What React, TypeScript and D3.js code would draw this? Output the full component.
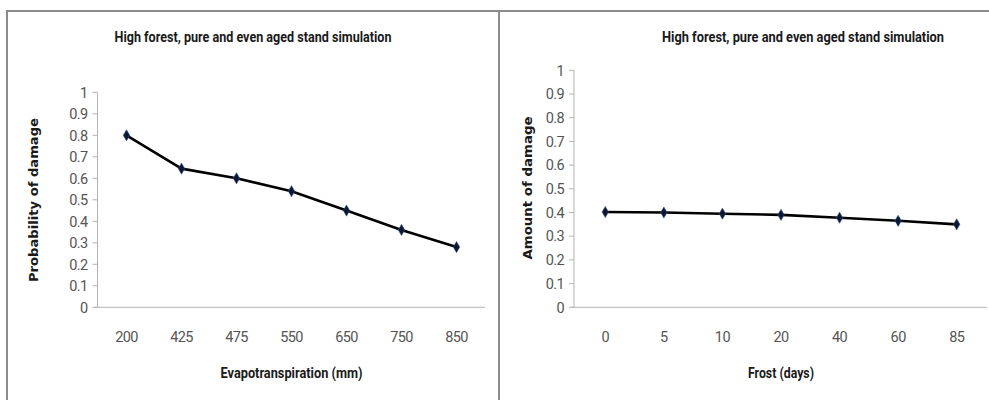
import React from "react";
import * as d3 from "d3";

const titleText = "High forest, pure and even aged stand simulation";

const evapCategories = ["200", "425", "475", "550", "650", "750", "850"];
const evapValues = [0.8, 0.645, 0.6, 0.54, 0.45, 0.36, 0.28];

const frostCategories = ["0", "5", "10", "20", "40", "60", "85"];
const frostValues = [0.402, 0.4, 0.395, 0.39, 0.378, 0.365, 0.35];

const yTicks = [0, 0.1, 0.2, 0.3, 0.4, 0.5, 0.6, 0.7, 0.8, 0.9, 1];

const FONT = "'Liberation Sans Narrow', Roboto, 'Open Sans', sans-serif";

type PanelProps = {
  categories: string[];
  values: number[];
  xRange: [number, number];
  yRange: [number, number];
  axisLineX: [number, number];
  yAxisX: number;
  titleX: number;
  titleW: number;
  xTitle: string;
  xTitleW: number;
  yTitle: string;
  yTitleX: number;
  yTitleY: number;
  yTitleW: number;
};

function Panel(p: PanelProps) {
  const x = d3.scaleBand<string>().domain(p.categories).range(p.xRange);
  const y = d3.scaleLinear().domain([0, 1]).range(p.yRange);
  const cx = (c: string) => (x(c) as number) + x.bandwidth() / 2;
  const data = p.categories.map((c, i) => ({ c, v: p.values[i] }));
  const line = d3
    .line<{ c: string; v: number }>()
    .x((d) => cx(d.c))
    .y((d) => y(d.v));
  const xCenter = (p.xRange[0] + p.xRange[1]) / 2;
  const diamond = d3.symbol(d3.symbolDiamond, 36)() as string;
  return (
    <g>
      <text
        x={p.titleX}
        y={42}
        textAnchor="middle"
        fontFamily={FONT}
        fontWeight="bold"
        fontSize={14}
        fill="#1a1a1a"
        textLength={p.titleW}
        lengthAdjust="spacingAndGlyphs"
      >
        {titleText}
      </text>
      <line x1={p.yAxisX} x2={p.yAxisX} y1={y(1)} y2={y(0)} stroke="#b3b3b3" strokeWidth={1} />
      {yTicks.map((t) => (
        <g key={t}>
          <line x1={p.yAxisX - 5} x2={p.yAxisX} y1={y(t)} y2={y(t)} stroke="#b3b3b3" strokeWidth={1} />
          <text
            x={p.yAxisX - 10}
            y={y(t)}
            dy="0.36em"
            textAnchor="end"
            fontFamily={FONT}
            fontSize={14.5}
            letterSpacing={-0.6}
            fill="#555"
          >
            {String(t)}
          </text>
        </g>
      ))}
      <line x1={p.axisLineX[0]} x2={p.axisLineX[1]} y1={y(0)} y2={y(0)} stroke="#b3b3b3" strokeWidth={1} />
      {p.categories.map((c) => (
        <text
          key={c}
          x={cx(c)}
          y={336.5}
          dy="0.36em"
          textAnchor="middle"
          fontFamily={FONT}
          fontSize={14.5}
          letterSpacing={-0.6}
          fill="#555"
        >
          {c}
        </text>
      ))}
      <text
        x={xCenter}
        y={373}
        dy="0.36em"
        textAnchor="middle"
        fontFamily={FONT}
        fontWeight="bold"
        fontSize={15}
        fill="#1a1a1a"
        textLength={p.xTitleW}
        lengthAdjust="spacingAndGlyphs"
      >
        {p.xTitle}
      </text>
      <text
        transform={`translate(${p.yTitleX},${p.yTitleY}) rotate(-90)`}
        dy="0.35em"
        textAnchor="middle"
        fontFamily="'DejaVu Sans', sans-serif"
        fontWeight="bold"
        fontSize={13}
        fill="#1a1a1a"
        textLength={p.yTitleW}
        lengthAdjust="spacingAndGlyphs"
      >
        {p.yTitle}
      </text>
      <path d={line(data) as string} fill="none" stroke="#000" strokeWidth={2.6} strokeLinejoin="round" />
      {data.map((d) => (
        <path
          key={d.c}
          d={diamond}
          transform={`translate(${cx(d.c)},${y(d.v)})`}
          fill="#0b1733"
          stroke="#3a5a8c"
          strokeWidth={0.6}
        />
      ))}
    </g>
  );
}

export default function App() {
  return (
    <svg
      width={989}
      height={400}
      style={{ position: "absolute", left: 0, top: 0, background: "#fff" }}
    >
      <rect x={0} y={0} width={989} height={400} fill="#fff" />
      <line x1={6} x2={989} y1={11} y2={11} stroke="#8c8c8c" strokeWidth={2} />
      <line x1={7} x2={7} y1={10} y2={400} stroke="#8c8c8c" strokeWidth={2} />
      <line x1={499} x2={499} y1={10} y2={400} stroke="#8c8c8c" strokeWidth={2} />
      <Panel
        categories={evapCategories}
        values={evapValues}
        xRange={[99, 484]}
        yRange={[307.3, 92.3]}
        axisLineX={[94, 485]}
        yAxisX={97.5}
        titleX={253}
        titleW={277}
        xTitle="Evapotranspiration (mm)"
        xTitleW={142}
        yTitle="Probability of damage"
        yTitleX={33}
        yTitleY={200}
        yTitleW={164}
      />
      <Panel
        categories={frostCategories}
        values={frostValues}
        xRange={[576, 986]}
        yRange={[307.3, 70.3]}
        axisLineX={[571, 987]}
        yAxisX={574}
        titleX={803}
        titleW={282}
        xTitle="Frost (days)"
        xTitleW={66}
        yTitle="Amount of damage"
        yTitleX={527}
        yTitleY={188}
        yTitleW={143}
      />
    </svg>
  );
}
